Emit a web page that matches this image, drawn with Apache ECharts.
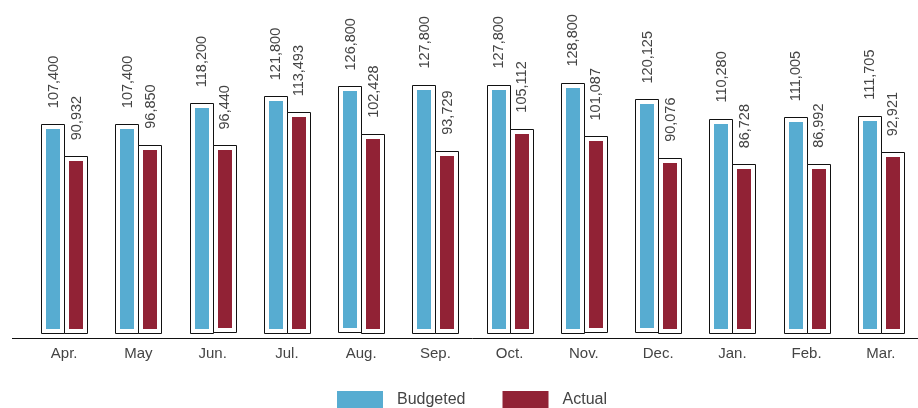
<!DOCTYPE html>
<html>
<head>
<meta charset="utf-8">
<script src="https://cdn.jsdelivr.net/npm/echarts@6/dist/echarts.min.js"></script>
<style>
  html, body { margin: 0; padding: 0; background: #fff; }
  #chart { width: 918px; height: 408px; }
</style>
</head>
<body>
<div id="chart"></div>
<script>
var months = ['Apr.', 'May', 'Jun.', 'Jul.', 'Aug.', 'Sep.', 'Oct.', 'Nov.', 'Dec.', 'Jan.', 'Feb.', 'Mar.'];
var budgeted = [107400, 107400, 118200, 121800, 126800, 127800, 127800, 128800, 120125, 110280, 111005, 111705];
var actual = [90932, 96850, 96440, 113493, 102428, 93729, 105112, 101087, 90076, 86728, 86992, 92921];

var BLUE = '#57acd1';
var RED = '#912235';
var FONT = '"Liberation Sans", Arial, sans-serif';

// boxed bar: white box with black outline, coloured bar inset inside, rotated value above
function boxRenderer(side, color) {
    return function (params, api) {
        var i = api.value(0), v = api.value(1);
        var top = api.coord([i, v]);
        var base = api.coord([i, 0]);
        var bw = api.size([1, 0])[0] * 0.31;
        var x = side === 0 ? top[0] - bw : top[0];
        var h = base[1] - top[1];
        return {
            type: 'group',
            children: [
                {
                    type: 'rect',
                    shape: {x: Math.round(x) + 0.5, y: Math.round(top[1]) + 0.5, width: Math.round(bw), height: Math.round(h)},
                    style: {fill: '#fff', stroke: '#111', lineWidth: 1}
                },
                {
                    type: 'rect',
                    shape: {x: Math.round(x) + 5, y: Math.round(top[1]) + 5, width: Math.round(bw) - 9, height: Math.round(h) - 9},
                    style: {fill: color}
                },
                {
                    type: 'text',
                    x: x + bw / 2 + 1,
                    y: top[1] - 16,
                    rotation: Math.PI / 2,
                    style: {
                        text: v.toLocaleString('en-US'),
                        fill: '#444',
                        fontSize: 14.5,
                        fontFamily: FONT,
                        align: 'left',
                        verticalAlign: 'middle'
                    }
                }
            ]
        };
    };
}

var chart = echarts.init(document.getElementById('chart'));
chart.setOption({
    animation: false,
    grid: {left: 27, right: 0, top: 20, bottom: 70},
    legend: {
        data: ['Budgeted', 'Actual'],
        left: 337,
        top: 391,
        padding: 0,
        icon: 'rect',
        itemWidth: 46,
        itemHeight: 18,
        itemGap: 37,
        itemStyle: {borderWidth: 0},
        textStyle: {fontSize: 16, fontFamily: FONT, color: '#444', padding: [0, 0, 0, 9]}
    },
    xAxis: {
        type: 'category',
        data: months,
        axisLine: {onZero: false, lineStyle: {color: '#111', width: 1}},
        axisTick: {show: false},
        axisLabel: {fontSize: 15, fontFamily: FONT, color: '#444', margin: 8}
    },
    yAxis: {
        type: 'value',
        min: -2600,
        max: 161000,
        show: false
    },
    graphic: [{
        type: 'line',
        shape: {x1: 12, y1: 338.5, x2: 28, y2: 338.5},
        style: {stroke: '#111', lineWidth: 1}
    }],
    series: [
        {
            name: 'Budgeted',
            type: 'custom',
            itemStyle: {color: BLUE},
            renderItem: boxRenderer(0, BLUE),
            encode: {x: 0, y: 1},
            data: budgeted.map(function (v, i) { return [i, v]; })
        },
        {
            name: 'Actual',
            type: 'custom',
            itemStyle: {color: RED},
            renderItem: boxRenderer(1, RED),
            encode: {x: 0, y: 1},
            data: actual.map(function (v, i) { return [i, v]; })
        }
    ]
});
</script>
</body>
</html>
